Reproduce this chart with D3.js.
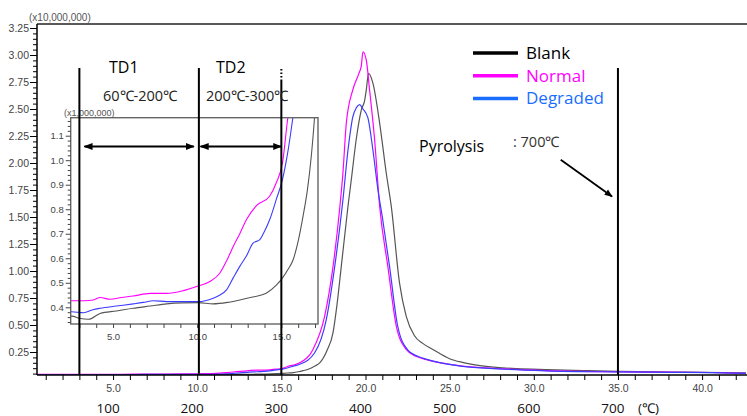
<!DOCTYPE html>
<head>
<meta charset="utf-8">
<script src="https://d3js.org/d3.v7.min.js"></script>
<style>
  body { margin:0; background:#fff; }
  svg { display:block; }
  .axis text { font-family:"Liberation Sans", Arial, sans-serif; fill:#444; }
  .anno { font-family:"Open Sans", sans-serif; }
</style>
</head>
<body>
<script>
// time (min) and intensity (x10,000,000)
var blankT = [0.5,1.5,2.55,3.0,3.54,4.23,5.2,6.2,7.2,8.18,9.1,10.06,10.95,11.8,12.53,13.3,14.1,14.7,15.07,15.4,15.7,16.0,16.29,16.55,16.78,17.0,17.28,17.7,18.07,18.3,18.56,18.96,19.16,19.45,19.75,19.95,20.05,20.18,20.44,20.84,21.23,21.53,22.02,22.42,22.91,23.4,24.0,24.99,25.76,26.7,27.78,29.0,30.74,33,35,38,40,42.6];
var blankV = [0.037,0.0365,0.0364,0.0355,0.0351,0.0375,0.0385,0.0396,0.0405,0.0414,0.0418,0.0419,0.0414,0.042,0.043,0.0442,0.0457,0.049,0.052,0.0555,0.0594,0.067,0.0772,0.088,0.1017,0.12,0.15,0.26,0.43,0.68,1.04,1.60,1.85,2.22,2.49,2.58,2.68,2.83,2.74,2.37,1.91,1.60,0.89,0.58,0.40,0.33,0.274,0.188,0.154,0.127,0.108,0.096,0.087,0.078,0.071,0.065,0.062,0.056];

var normalT = [0.5,1.5,2.55,3.3,3.83,4.23,4.82,5.5,6.2,7.2,8.18,9.17,10.06,10.75,11.35,11.75,12.14,12.53,12.93,13.52,14.3,14.7,15.07,15.4,15.7,16.09,16.88,17.57,18.07,18.46,18.66,18.86,19.25,19.61,19.75,19.85,20.05,20.24,20.54,20.84,21.33,21.83,22.42,23.0,23.61,24.99,25.76,27.8,30.74,34.6,38,40.6,42.6];
var normalV = [0.043,0.0428,0.0427,0.0427,0.043,0.044,0.0433,0.044,0.0446,0.0457,0.0457,0.0468,0.0487,0.0505,0.054,0.059,0.0648,0.070,0.0758,0.0815,0.0853,0.0908,0.099,0.118,0.128,0.15,0.274,0.58,1.04,1.57,1.91,2.37,2.68,2.83,2.9,3.03,2.95,2.68,2.22,1.60,1.04,0.49,0.274,0.21,0.18,0.136,0.12,0.097,0.078,0.067,0.063,0.06,0.053];

var degradedT = [0.5,1.5,2.55,3.25,3.8,4.23,5.2,6.2,6.8,7.39,8.18,9.17,10.06,10.95,11.35,11.74,12.14,12.53,12.93,13.32,13.72,14.0,14.31,14.7,15.07,15.4,15.7,16.09,16.98,17.67,18.17,18.66,18.96,19.25,19.45,19.65,19.85,20.14,20.44,20.75,21.0,21.43,21.9,22.5,23.1,23.7,25,25.76,27.8,30.74,34.6,38,40.6,42.6];
var degradedV = [0.0385,0.0383,0.0382,0.0378,0.039,0.0396,0.0405,0.0414,0.042,0.0427,0.0423,0.0423,0.0423,0.0437,0.045,0.0471,0.052,0.0567,0.061,0.0662,0.0676,0.071,0.0758,0.084,0.0922,0.104,0.118,0.136,0.243,0.55,1.04,1.66,2.12,2.43,2.51,2.54,2.5,2.42,2.12,1.74,1.5,1.04,0.5,0.27,0.21,0.18,0.135,0.117,0.094,0.076,0.066,0.062,0.059,0.053];

var seriesNames = ["Blank", "Normal", "Degraded"];
var yTicks = [0.25,0.50,0.75,1.00,1.25,1.50,1.75,2.00,2.25,2.50,2.75,3.00,3.25];
var xTicks = [5,10,15,20,25,30,35,40];
var insetYTicks = [0.4,0.5,0.6,0.7,0.8,0.9,1.0,1.1];
var insetXTicks = [5,10,15];
var tempTimes = [5,10,15,20,25,30,35];
var tempLabels = ["100","200","300","400","500","600","700"];
var stageTimes = [3, 10.1, 15, 35];

var W = 747, H = 416;
var svg = d3.select("body").append("svg").attr("width", W).attr("height", H);

var x = d3.scaleLinear().domain([0, 40]).range([28.9, 702.1]);
var y = d3.scaleLinear().domain([0, 3.25]).range([379, 28]);
var plot = {left: 37, right: 747, top: 24, bottom: 375};

var curveColor = {Blank: "#555", Normal: "#ff00ff", Degraded: "#3c3cff"};
var legendColor = {Blank: "#000", Normal: "#ff00ff", Degraded: "#1a6eff"};

var series = [
  {name: "Blank", pts: blankT.map(function(t, i) { return [t, blankV[i]]; })},
  {name: "Normal", pts: normalT.map(function(t, i) { return [t, normalV[i]]; })},
  {name: "Degraded", pts: degradedT.map(function(t, i) { return [t, degradedV[i]]; })}
];

var defs = svg.append("defs");
defs.append("clipPath").attr("id", "mainclip").append("rect")
  .attr("x", plot.left).attr("y", plot.top)
  .attr("width", plot.right - plot.left).attr("height", plot.bottom - plot.top);
defs.append("marker").attr("id", "ah").attr("viewBox", "0 0 10 10")
  .attr("refX", 9).attr("refY", 5).attr("markerWidth", 4.5).attr("markerHeight", 4.5)
  .attr("orient", "auto-start-reverse")
  .append("path").attr("d", "M0,1L10,5L0,9Z").attr("fill", "#000");

// main curves
var line = d3.line().curve(d3.curveMonotoneX)
  .x(function(d) { return x(d[0]); })
  .y(function(d) { return y(d[1]); });

svg.append("g").attr("clip-path", "url(#mainclip)")
  .selectAll("path").data(series).enter().append("path")
  .attr("d", function(d) { return line(d.pts); })
  .attr("fill", "none")
  .attr("stroke", function(d) { return curveColor[d.name]; })
  .attr("stroke-width", 1.2);

// frame
svg.append("line").attr("x1", plot.left).attr("x2", plot.right)
  .attr("y1", plot.top).attr("y2", plot.top).attr("stroke", "#222").attr("stroke-width", 1.5);
svg.append("line").attr("x1", plot.left).attr("x2", plot.left)
  .attr("y1", plot.top).attr("y2", plot.bottom).attr("stroke", "#000").attr("stroke-width", 1.5);
svg.append("line").attr("x1", plot.left).attr("x2", plot.right)
  .attr("y1", plot.bottom).attr("y2", plot.bottom).attr("stroke", "#000").attr("stroke-width", 1.5);

// y axis
var yMinor = d3.range(0.05, 3.28, 0.05).filter(function(v) { return Math.abs(v / 0.25 - Math.round(v / 0.25)) > 0.01; });
svg.append("g").attr("class", "axis").attr("transform", "translate(" + plot.left + ",0)")
  .call(d3.axisLeft(y).tickValues(yMinor).tickSize(4).tickFormat(""))
  .call(function(g) { g.select(".domain").remove(); });
svg.append("g").attr("class", "axis").attr("transform", "translate(" + plot.left + ",0)")
  .call(d3.axisLeft(y).tickValues(yTicks).tickSize(7).tickPadding(1).tickFormat(d3.format(".2f")))
  .call(function(g) {
    g.select(".domain").remove();
    g.selectAll("text").attr("font-size", 10.5);
  });
svg.append("text").attr("class", "axis").attr("x", 29).attr("y", 21)
  .attr("font-family", "Liberation Sans, Arial, sans-serif").attr("font-size", 10).attr("fill", "#555")
  .text("(x10,000,000)");

// x axis
svg.append("g").attr("class", "axis").attr("transform", "translate(0," + plot.bottom + ")")
  .call(d3.axisBottom(x).tickValues(d3.range(1, 43)).tickSize(5).tickPadding(5)
    .tickFormat(function(d) { return xTicks.indexOf(d) >= 0 ? d.toFixed(1) : ""; }))
  .call(function(g) {
    g.select(".domain").remove();
    g.selectAll("text").attr("font-size", 10.5);
  });

svg.selectAll(".temp").data(tempTimes).enter().append("text")
  .attr("class", "anno temp")
  .attr("x", function(d) { return x(d) - 5; }).attr("y", 413)
  .attr("text-anchor", "middle").attr("font-size", 13.5).attr("fill", "#111")
  .text(function(d, i) { return tempLabels[i]; });
svg.append("text").attr("class", "anno").attr("x", 638).attr("y", 413)
  .attr("font-size", 13.5).attr("fill", "#111").text("(\u2103)");

// inset
var ix = {left: 70.7, right: 318, top: 117.7, bottom: 324};
var iy = d3.scaleLinear().domain([0.4, 1.1]).range([307.3, 135.7]);
defs.append("clipPath").attr("id", "insetclip").append("rect")
  .attr("x", ix.left).attr("y", ix.top).attr("width", ix.right - ix.left).attr("height", ix.bottom - ix.top);

svg.append("rect").attr("x", ix.left).attr("y", ix.top)
  .attr("width", ix.right - ix.left).attr("height", ix.bottom - ix.top)
  .attr("fill", "#fff");

var insetLine = d3.line().curve(d3.curveMonotoneX)
  .x(function(d) { return x(d[0]); })
  .y(function(d) { return iy(d[1] * 10); });
svg.append("g").attr("clip-path", "url(#insetclip)")
  .selectAll("path").data(series).enter().append("path")
  .attr("d", function(d) { return insetLine(d.pts); })
  .attr("fill", "none")
  .attr("stroke", function(d) { return curveColor[d.name]; })
  .attr("stroke-width", 1.1);

svg.append("rect").attr("x", ix.left).attr("y", ix.top)
  .attr("width", ix.right - ix.left).attr("height", ix.bottom - ix.top)
  .attr("fill", "none").attr("stroke", "#666").attr("stroke-width", 1.4);

var iyMinor = d3.range(0.34, 1.18, 0.02).filter(function(v) { return Math.abs(v * 10 - Math.round(v * 10)) > 0.01; });
svg.append("g").attr("class", "axis").attr("transform", "translate(" + ix.left + ",0)")
  .call(d3.axisLeft(iy).tickValues(iyMinor).tickSize(3).tickFormat(""))
  .call(function(g) { g.select(".domain").remove(); g.selectAll("line").attr("stroke", "#444"); });
svg.append("g").attr("class", "axis").attr("transform", "translate(" + ix.left + ",0)")
  .call(d3.axisLeft(iy).tickValues(insetYTicks).tickSize(5).tickPadding(2).tickFormat(d3.format(".1f")))
  .call(function(g) {
    g.select(".domain").remove();
    g.selectAll("line").attr("stroke", "#444");
    g.selectAll("text").attr("font-size", 9.5);
  });
svg.append("g").attr("class", "axis").attr("transform", "translate(0," + ix.bottom + ")")
  .call(d3.axisBottom(x).tickValues(d3.range(3, 18)).tickSize(4).tickPadding(5)
    .tickFormat(function(d) { return insetXTicks.indexOf(d) >= 0 ? d.toFixed(1) : ""; }))
  .call(function(g) {
    g.select(".domain").remove();
    g.selectAll("line").attr("stroke", "#444");
    g.selectAll("text").attr("font-size", 9.5);
  });
svg.append("text").attr("x", 64).attr("y", 116)
  .attr("font-family", "Liberation Sans, Arial, sans-serif").attr("font-size", 9).attr("fill", "#555")
  .text("(x1,000,000)");

// stage boundaries
stageTimes.forEach(function(t, i) {
  var top = (i === 2) ? 80 : 68;
  svg.append("line").attr("x1", x(t)).attr("x2", x(t)).attr("y1", top).attr("y2", plot.bottom)
    .attr("stroke", "#000").attr("stroke-width", 2);
  if (i === 2) {
    svg.append("line").attr("x1", x(t)).attr("x2", x(t)).attr("y1", 69).attr("y2", 80)
      .attr("stroke", "#000").attr("stroke-width", 2).attr("stroke-dasharray", "1.5,2");
  }
});

// double arrows
[[3.3, 9.8], [10.2, 15]].forEach(function(s) {
  svg.append("line").attr("x1", x(s[0])).attr("x2", x(s[1])).attr("y1", 146.5).attr("y2", 146.5)
    .attr("stroke", "#000").attr("stroke-width", 2)
    .attr("marker-start", "url(#ah)").attr("marker-end", "url(#ah)");
});

// stage labels
svg.append("text").attr("class", "anno").attr("x", 109).attr("y", 73).attr("font-size", 16).text("TD1");
svg.append("text").attr("class", "anno").attr("x", 216).attr("y", 73).attr("font-size", 16).text("TD2");
svg.append("text").attr("class", "anno").attr("x", 103).attr("y", 101).attr("font-size", 14.5).attr("fill", "#222").text("60\u2103-200\u2103");
svg.append("text").attr("class", "anno").attr("x", 206).attr("y", 101).attr("font-size", 14.5).attr("fill", "#222").text("200\u2103-300\u2103");
svg.append("text").attr("class", "anno").attr("x", 419).attr("y", 152).attr("font-size", 16).text("Pyrolysis");
svg.append("text").attr("class", "anno").attr("x", 513).attr("y", 147).attr("font-size", 14.5).attr("fill", "#333").text(": 700\u2103");
svg.append("line").attr("x1", x(31.6)).attr("y1", y(2.03)).attr("x2", x(34.65)).attr("y2", y(1.69))
  .attr("stroke", "#000").attr("stroke-width", 1.8).attr("marker-end", "url(#ah)");

// legend
var lg = svg.append("g").attr("transform", "translate(473,53)");
seriesNames.forEach(function(n, i) {
  var yy = i * 22.7;
  lg.append("line").attr("x1", 0).attr("x2", 45).attr("y1", yy).attr("y2", yy)
    .attr("stroke", legendColor[n]).attr("stroke-width", 3.5);
  lg.append("text").attr("class", "anno").attr("x", 53).attr("y", yy + 6)
    .attr("font-size", 17).attr("fill", legendColor[n]).text(n);
});
</script>
</body>
